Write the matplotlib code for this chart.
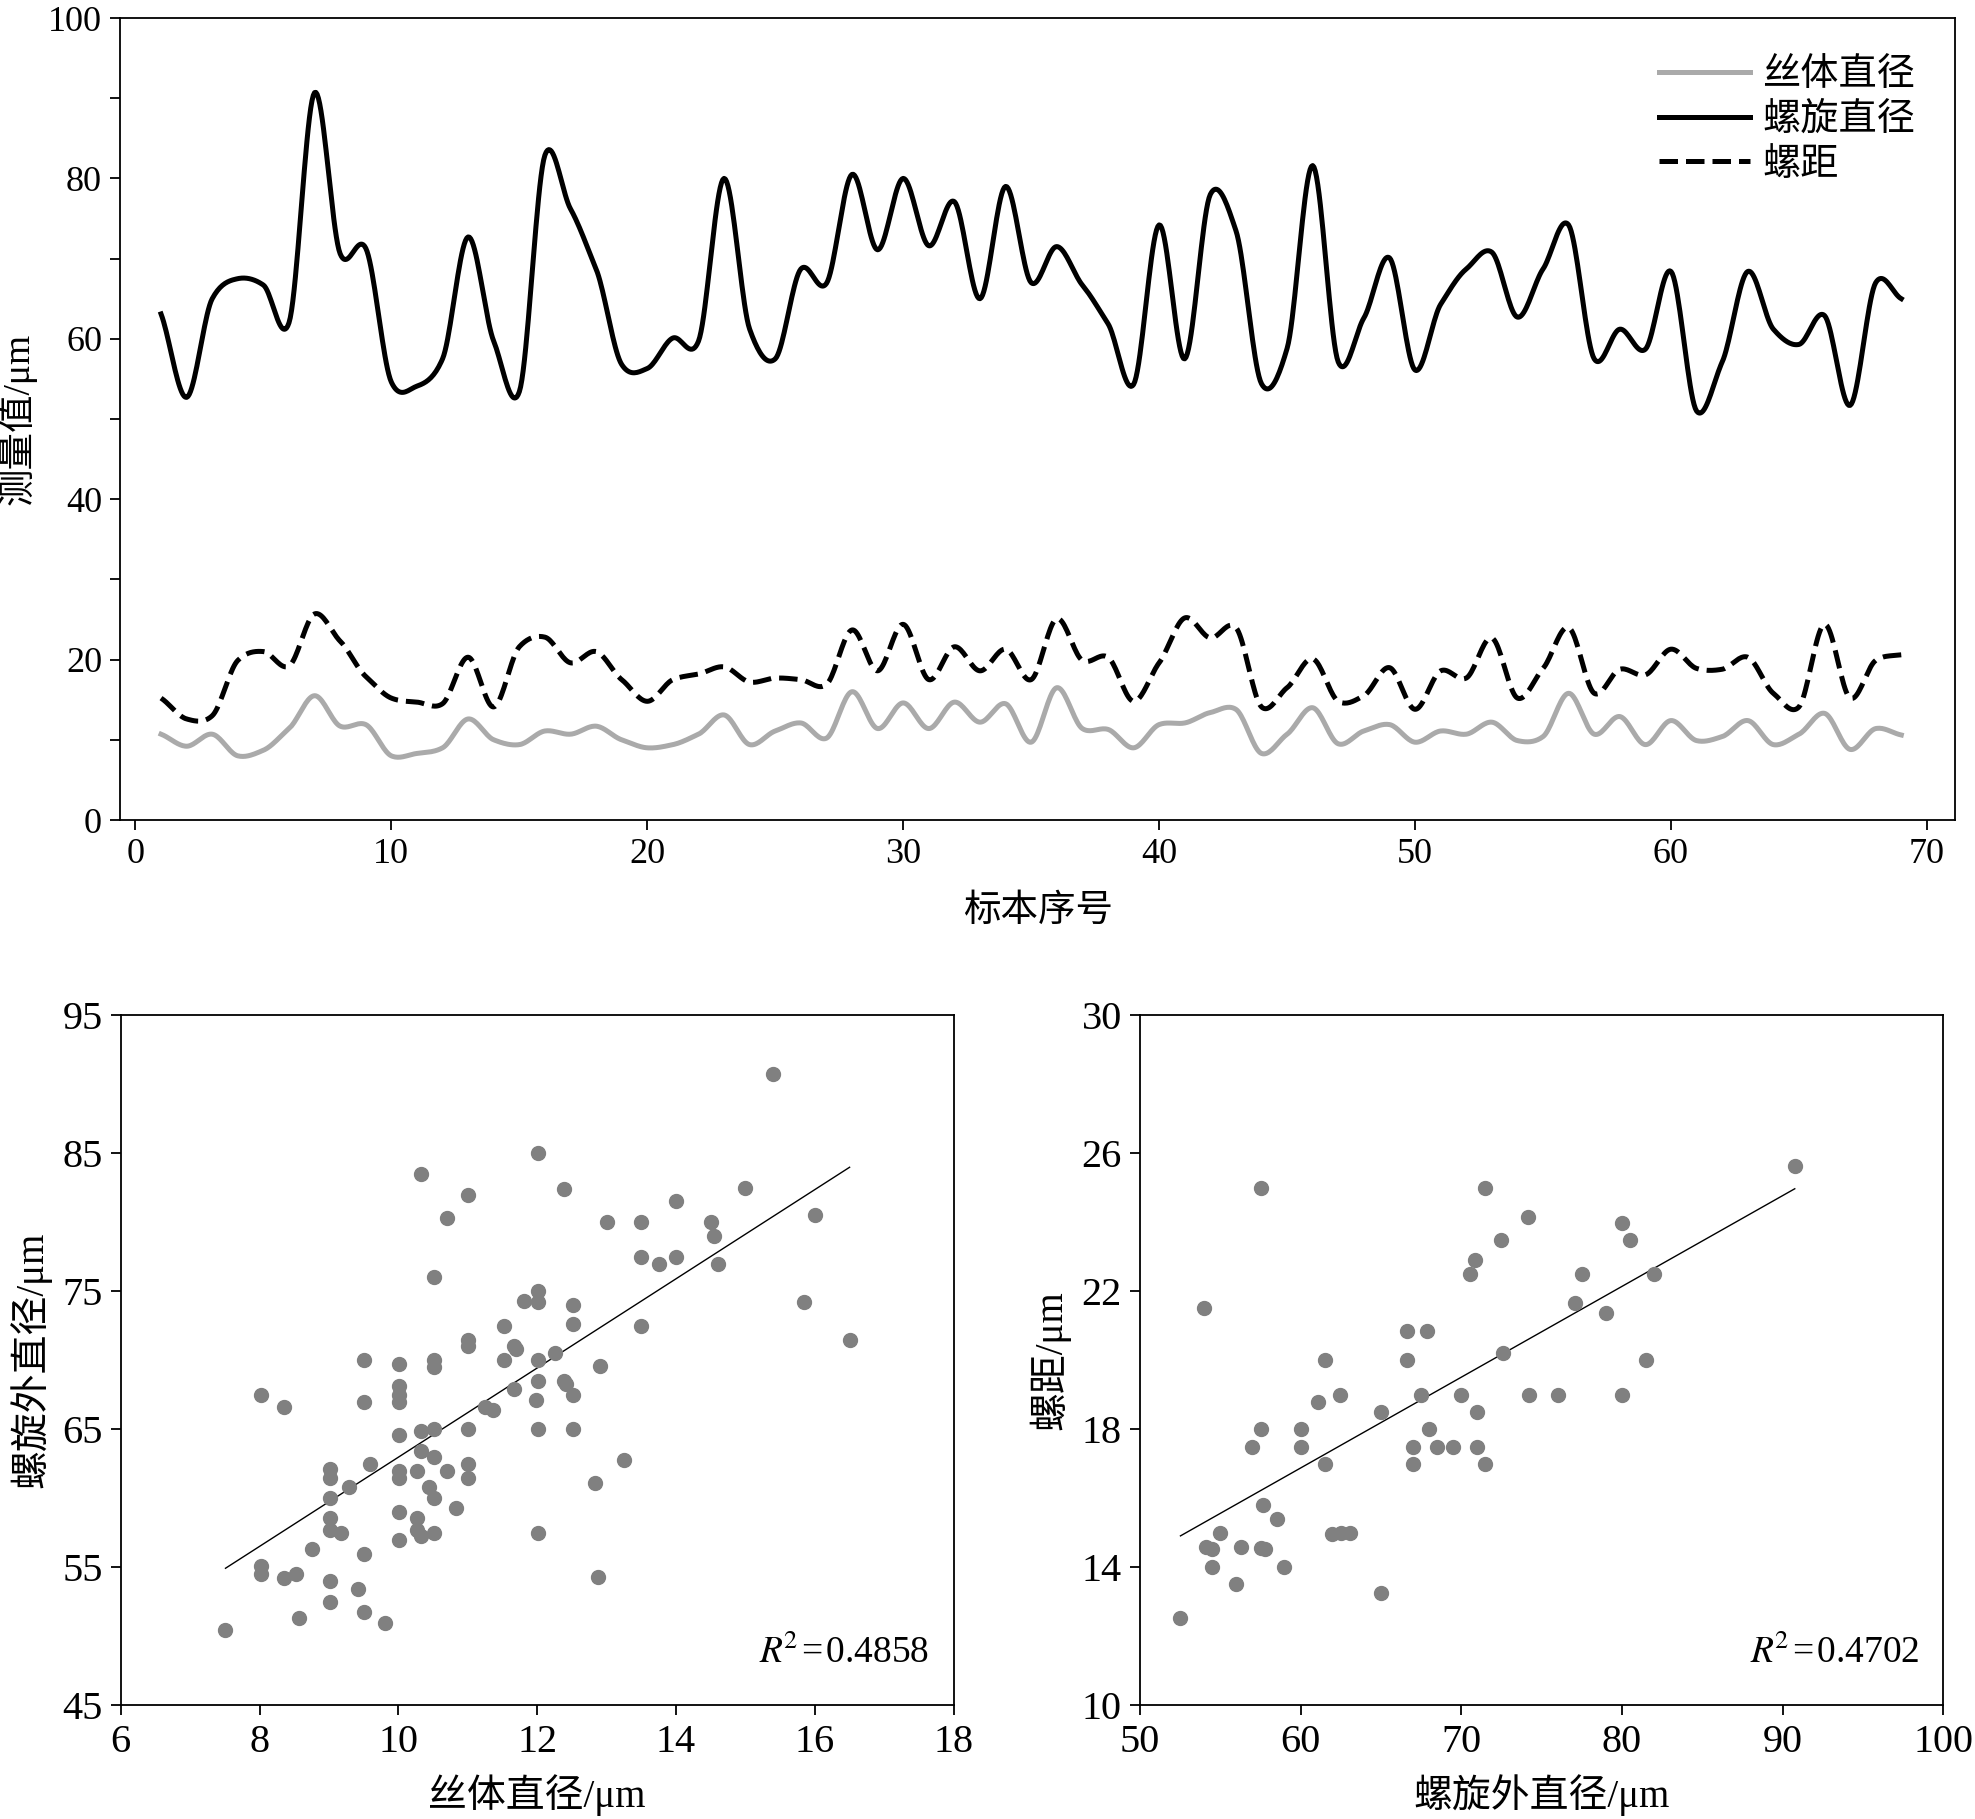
import numpy as np
import matplotlib
matplotlib.use("Agg")
import matplotlib.pyplot as plt
from matplotlib.ticker import MultipleLocator

plt.rcParams['font.family'] = ['Liberation Serif', 'Noto Sans CJK SC']
plt.rcParams['mathtext.fontset'] = 'stix'

# top chart: per-specimen measurements
sample_no = np.arange(1, 70)
filament_d = [10.7, 9.2, 10.7, 8.0, 8.7, 11.4, 15.5, 11.7, 11.9, 8.0,
              8.3, 9.0, 12.6, 10.0, 9.4, 11.1, 10.7, 11.7, 10.0, 9.0,
              9.4, 10.7, 13.1, 9.4, 11.1, 12.1, 10.2, 16.0, 11.4, 14.6,
              11.4, 14.7, 12.2, 14.5, 9.7, 16.5, 11.4, 11.3, 9.0, 11.9,
              12.1, 13.4, 13.8, 8.3, 10.7, 14.0, 9.5, 11.1, 11.9, 9.7,
              11.1, 10.7, 12.2, 9.9, 10.4, 15.8, 10.7, 12.9, 9.4, 12.4,
              9.9, 10.4, 12.4, 9.4, 10.7, 13.3, 8.8, 11.4, 10.6]
helix_d = [63.1, 52.7, 65.0, 67.5, 66.7, 62.0, 90.7, 70.6, 71.3, 54.6,
           54.1, 57.5, 72.7, 59.7, 53.4, 82.9, 76.2, 68.7, 56.8, 56.3,
           60.1, 59.7, 80.0, 61.2, 57.5, 68.7, 66.9, 80.5, 71.1, 80.0,
           71.6, 77.1, 65.0, 79.0, 67.0, 71.5, 66.7, 61.9, 54.3, 74.2,
           57.5, 78.0, 73.5, 54.4, 58.8, 81.6, 57.1, 62.6, 70.1, 56.1,
           64.3, 68.7, 70.8, 62.7, 68.7, 74.2, 57.5, 61.2, 58.7, 68.4,
           51.0, 57.1, 68.4, 61.2, 59.3, 62.9, 51.7, 67.0, 65.0]
pitch = [15.2, 12.6, 13.0, 19.9, 21.0, 19.2, 25.7, 22.3, 17.9, 15.2,
         14.7, 14.5, 20.3, 14.1, 21.6, 22.8, 19.6, 21.0, 17.5, 14.8,
         17.5, 18.2, 19.1, 17.2, 17.7, 17.5, 16.9, 23.7, 18.6, 24.4,
         17.5, 21.6, 18.6, 21.3, 17.5, 25.1, 19.9, 20.3, 14.8, 19.6,
         25.2, 22.7, 24.0, 14.1, 16.5, 20.1, 14.8, 15.5, 19.0, 13.8,
         18.6, 17.7, 22.7, 15.2, 18.9, 24.0, 15.8, 18.8, 18.1, 21.3,
         18.9, 18.8, 20.3, 15.8, 14.1, 24.4, 15.2, 19.9, 20.6]

# bottom-left scatter: filament diameter vs helix outer diameter
sc1_x = [15.40, 12.01, 10.33, 12.38, 11.01, 15.00, 14.00, 10.70, 13.00, 13.50,
         14.50, 16.00, 14.54, 13.50, 14.00, 13.76, 14.60, 10.51, 12.01, 11.81,
         12.01, 12.51, 15.85, 11.52, 13.50, 12.51, 16.50, 11.01, 11.01, 11.67,
         11.70, 12.26, 9.51, 10.01, 10.51, 10.51, 11.52, 12.01, 12.90, 12.01,
         12.38, 12.42, 10.01, 10.01, 11.67, 8.02, 12.51, 9.51, 10.01, 11.98,
         8.35, 11.25, 11.36, 10.01, 10.33, 10.51, 11.01, 12.01, 12.51, 10.33,
         10.51, 13.25, 9.59, 11.01, 9.01, 9.01, 10.01, 10.01, 10.27, 10.70,
         11.01, 9.29, 10.44, 12.83, 9.01, 10.51, 10.83, 10.01, 9.01, 10.27,
         9.01, 9.18, 10.27, 10.33, 10.51, 12.01, 10.01, 8.76, 9.51, 8.02,
         8.02, 8.35, 8.52, 9.01, 12.87, 9.42, 9.01, 9.51, 8.57, 9.81, 7.51]
sc1_y = [90.75, 85.0, 83.5, 82.4, 82.0, 82.5, 81.5, 80.3, 80.0, 80.0,
         80.0, 80.5, 79.0, 77.5, 77.5, 77.0, 77.0, 76.0, 75.0, 74.3,
         74.2, 74.0, 74.2, 72.5, 72.5, 72.6, 71.5, 71.5, 71.0, 71.0,
         70.8, 70.5, 70.0, 69.7, 70.0, 69.5, 70.0, 70.0, 69.6, 68.5,
         68.5, 68.3, 68.1, 67.5, 67.9, 67.5, 67.5, 67.0, 67.0, 67.1,
         66.6, 66.6, 66.4, 64.6, 64.9, 65.0, 65.0, 65.0, 65.0, 63.4,
         63.0, 62.8, 62.5, 62.5, 62.1, 61.5, 62.0, 61.5, 62.0, 62.0,
         61.5, 60.8, 60.8, 61.1, 60.0, 60.0, 59.3, 59.0, 58.6, 58.6,
         57.7, 57.5, 57.7, 57.3, 57.5, 57.5, 57.0, 56.3, 56.0, 55.1,
         54.5, 54.2, 54.5, 54.0, 54.3, 53.4, 52.5, 51.8, 51.3, 51.0, 50.5]
fit1 = (3.23, 30.68)      # slope, intercept
r2_1 = 0.4858

# bottom-right scatter: helix outer diameter vs pitch
sc2_x = [90.75, 57.51, 71.48, 74.15, 80.00, 72.48, 80.50, 70.82, 70.51, 77.48,
         81.97, 77.05, 53.99, 79.02, 66.64, 67.88, 61.49, 66.64, 81.50, 72.60,
         62.46, 67.49, 70.00, 74.23, 76.01, 80.00, 61.11, 64.98, 70.98, 57.51,
         60.02, 67.96, 57.00, 60.02, 66.99, 68.50, 69.50, 70.98, 61.49, 66.99,
         71.48, 57.66, 58.55, 54.99, 61.96, 62.50, 63.04, 54.14, 54.49, 56.27,
         57.51, 57.78, 54.49, 58.98, 56.00, 65.02, 52.52]
sc2_y = [25.63, 25.0, 25.0, 24.15, 23.98, 23.49, 23.49, 22.91, 22.50, 22.50,
         22.50, 21.67, 21.51, 21.36, 20.84, 20.84, 20.01, 20.01, 20.01, 20.22,
         19.0, 19.0, 19.0, 19.0, 19.0, 19.0, 18.80, 18.51, 18.51, 18.0,
         18.0, 18.0, 17.49, 17.49, 17.49, 17.49, 17.49, 17.49, 17.0, 17.0,
         17.0, 15.82, 15.41, 14.99, 14.96, 14.99, 14.99, 14.59, 14.53, 14.59,
         14.56, 14.53, 14.02, 14.02, 13.52, 13.26, 12.52]
fit2 = (0.263, 1.10)
r2_2 = 0.4702


def smooth(x, y, n=20, c=0.8):
    """Cardinal (Catmull-Rom type) curve through the points, for drawing."""
    x = np.asarray(x, float)
    y = np.asarray(y, float)
    h = np.diff(x)
    m = np.zeros_like(y)
    m[1:-1] = c * (y[2:] - y[:-2]) / (x[2:] - x[:-2])
    m[0] = c * (y[1] - y[0]) / h[0]
    m[-1] = c * (y[-1] - y[-2]) / h[-1]
    xs, ys = [], []
    for i in range(len(x) - 1):
        t = np.linspace(0, 1, n, endpoint=False)
        h00 = 2 * t**3 - 3 * t**2 + 1
        h10 = t**3 - 2 * t**2 + t
        h01 = -2 * t**3 + 3 * t**2
        h11 = t**3 - t**2
        xs.append(x[i] + t * h[i])
        ys.append(h00 * y[i] + h10 * h[i] * m[i] + h01 * y[i + 1] + h11 * h[i] * m[i + 1])
    xs.append([x[-1]])
    ys.append([y[-1]])
    return np.concatenate(xs), np.concatenate(ys)


fig = plt.figure(figsize=(19.75, 18.19), dpi=100)
ax = fig.add_axes([0.0608, 0.5492, 0.9291, 0.4409])
ax1 = fig.add_axes([0.0611, 0.0624, 0.4218, 0.3796])
ax2 = fig.add_axes([0.5772, 0.0624, 0.4068, 0.3796])

label_fs = 27

# top line chart
ax.plot(*smooth(sample_no, filament_d), color="#aaaaaa", lw=3.6, label="丝体直径")
ax.plot(*smooth(sample_no, helix_d), color="black", lw=3.6, label="螺旋直径")
ax.plot(*smooth(sample_no, pitch), color="black", lw=3.6, ls="--", label="螺距")
ax.set_xlim(-0.6, 71.1)
ax.set_ylim(0, 100)
ax.xaxis.set_major_locator(MultipleLocator(10))
ax.yaxis.set_major_locator(MultipleLocator(20))
ax.yaxis.set_minor_locator(MultipleLocator(10))
ax.set_xlabel("标本序号", fontsize=label_fs, labelpad=17)
ax.set_ylabel("测量值/μm", fontsize=label_fs, labelpad=8)
ax.legend(loc="upper right", frameon=False, fontsize=27.5, handlelength=2.4,
          handletextpad=0.3, labelspacing=0.25, borderaxespad=0.65)
ax.tick_params(labelsize=26)

# scatter plots
xx = np.array([min(sc1_x), max(sc1_x)])
ax1.scatter(sc1_x, sc1_y, s=100, color="#808080", zorder=3)
ax1.plot(xx, fit1[0] * xx + fit1[1], color="black", lw=1)
ax1.set_xlim(6, 18)
ax1.set_ylim(45, 95)
ax1.set_xticks(np.arange(6, 19, 2))
ax1.set_yticks(np.arange(45, 96, 10))
ax1.set_xlabel("丝体直径/μm", fontsize=label_fs + 1, labelpad=10)
ax1.set_ylabel("螺旋外直径/μm", fontsize=label_fs + 1, labelpad=8)
ax1.text(0.97, 0.05, r"$R^{\!2}$" + f"\u200a=\u200a{r2_1}", transform=ax1.transAxes,
         ha="right", va="bottom", fontsize=27, family=["Liberation Serif", "DejaVu Sans"])

xx = np.array([min(sc2_x), max(sc2_x)])
ax2.scatter(sc2_x, sc2_y, s=100, color="#808080", zorder=3)
ax2.plot(xx, fit2[0] * xx + fit2[1], color="black", lw=1)
ax2.set_xlim(50, 100)
ax2.set_ylim(10, 30)
ax2.set_xticks(np.arange(50, 101, 10))
ax2.set_yticks(np.arange(10, 31, 4))
ax2.set_xlabel("螺旋外直径/μm", fontsize=label_fs + 1, labelpad=10)
ax2.set_ylabel("螺距/μm", fontsize=label_fs + 1, labelpad=8)
ax2.text(0.97, 0.05, r"$R^{\!2}$" + f"\u200a=\u200a{r2_2}", transform=ax2.transAxes,
         ha="right", va="bottom", fontsize=27, family=["Liberation Serif", "DejaVu Sans"])

for a in (ax, ax1, ax2):
    a.tick_params(which="both", direction="out", length=7, width=1.3, pad=6)
    for sp in a.spines.values():
        sp.set_linewidth(1.3)
for a in (ax1, ax2):
    a.tick_params(labelsize=29)

fig.savefig("out.png", dpi=100)
